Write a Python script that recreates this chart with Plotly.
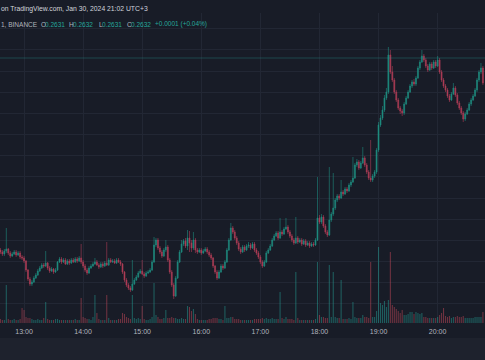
import plotly.graph_objects as go
import pandas as pd

# ---- data (2-minute candles, BINANCE, Jan 30 2024) ----
start_time = "2024-01-30 12:36"
first_open = 0.25986

close = [0.25982,0.25978,0.25984,0.25988,0.25980,0.25974,0.25978,0.25982,0.25976,0.25980,0.25972,
0.25970,0.25964,0.25946,0.25928,0.25918,0.25922,0.25930,0.25936,0.25944,0.25950,0.25956,
0.25954,0.25960,0.25950,0.25944,0.25948,0.25942,0.25946,0.25962,0.25968,
0.25962,0.25966,0.25958,0.25964,0.25960,0.25966,0.25962,0.25968,0.25964,0.25970,0.25962,
0.25954,0.25946,0.25940,0.25950,0.25954,0.25958,0.25962,0.25956,0.25952,0.25958,0.25954,0.25960,0.25956,
0.25966,0.25962,0.25964,0.25960,0.25966,0.25962,0.25958,
0.25942,0.25926,0.25916,0.25910,0.25906,0.25918,0.25926,0.25932,0.25940,0.25944,
0.25938,0.25934,0.25940,0.25942,0.25946,0.25962,
0.25996,0.26006,0.25990,0.25982,0.25974,0.25986,0.25992,0.25966,
0.25942,0.25916,0.25894,0.25930,0.25962,0.25982,0.25998,0.26004,0.25994,
0.26010,0.26000,0.25990,0.26006,0.25986,
0.25982,0.25986,0.25980,0.25984,0.25988,0.25982,0.25976,0.25970,
0.25954,0.25942,0.25930,0.25942,0.25954,0.25950,0.25962,0.25986,0.26006,0.26030,
0.26022,0.26010,0.26000,0.25988,0.25982,0.25992,0.25986,0.25994,
0.25996,0.25990,0.25998,0.25986,0.25980,0.25972,0.25962,0.25954,0.25962,0.25980,0.25986,
0.25994,0.26006,0.26014,0.26020,0.26010,0.26022,0.26018,0.26028,0.26032,
0.26022,0.26014,0.26006,0.26000,0.26010,0.26002,0.26006,0.25998,0.26004,0.25996,0.26000,0.25994,0.25998,0.25996,0.26006,
0.26050,0.26042,0.26052,0.26034,0.26022,0.26016,0.26046,0.26058,0.26070,
0.26086,0.26094,0.26090,0.26102,0.26098,0.26108,0.26104,0.26116,0.26122,0.26130,
0.26156,0.26162,0.26150,0.26160,0.26170,0.26156,0.26142,0.26130,0.26126,0.26134,0.26142,0.26186,
0.26236,0.26250,0.26266,0.26290,0.26302,0.26376,0.26342,0.26326,0.26302,0.26286,0.26270,0.26264,
0.26260,0.26278,0.26290,0.26302,0.26314,0.26322,0.26318,0.26330,0.26350,0.26362,0.26374,
0.26366,0.26354,0.26346,0.26358,0.26350,0.26362,0.26354,0.26366,0.26342,0.26326,
0.26314,0.26306,0.26294,0.26286,0.26298,0.26310,0.26296,0.26280,0.26270,0.26260,0.26248,
0.26258,0.26266,0.26278,0.26286,0.26294,0.26306,0.26326,0.26342,0.26350,0.26320]

high = [0.25990,0.25986,0.25988,0.26030,0.25990,0.25984,0.25982,0.25986,0.25986,0.25984,0.25984,
0.25976,0.25974,0.25966,0.25948,0.25932,0.25926,0.25934,0.25940,0.25948,0.25954,0.25960,
0.25960,0.25984,0.25962,0.25954,0.25952,0.25950,0.25950,0.25964,0.25972,
0.25972,0.25970,0.25970,0.25968,0.25968,0.25970,0.25970,0.25972,0.25972,0.25974,0.25998,
0.25966,0.25958,0.25950,0.25954,0.25958,0.25962,0.25970,0.25966,0.25960,0.25962,0.25962,0.25964,0.26002,
0.25970,0.25970,0.25968,0.25968,0.25970,0.25970,0.25966,
0.25960,0.25944,0.25930,0.25920,0.25914,0.25966,0.25930,0.25936,0.25944,0.25948,
0.25966,0.25942,0.25944,0.25946,0.25950,0.25966,
0.26012,0.26010,0.26010,0.25994,0.25986,0.25990,0.26006,0.25996,
0.25970,0.25946,0.25920,0.25934,0.25966,0.25986,0.26006,0.26008,0.26010,
0.26026,0.26024,0.26006,0.26022,0.26010,
0.25990,0.25990,0.25990,0.25988,0.25992,0.25992,0.25986,0.25980,
0.25972,0.25956,0.25946,0.25946,0.25958,0.25958,0.25966,0.25990,0.26010,0.26040,
0.26034,0.26026,0.26014,0.26004,0.25992,0.25996,0.25996,0.25998,
0.26002,0.26000,0.26002,0.26002,0.25990,0.25984,0.25976,0.25966,0.25966,0.25984,0.25990,
0.25998,0.26010,0.26018,0.26024,0.26024,0.26050,0.26026,0.26032,0.26050,
0.26036,0.26026,0.26018,0.26010,0.26052,0.26014,0.26010,0.26010,0.26008,0.26008,0.26004,0.26004,0.26002,0.26002,0.26010,
0.26132,0.26056,0.26058,0.26056,0.26038,0.26026,0.26152,0.26062,0.26140,
0.26090,0.26098,0.26098,0.26126,0.26106,0.26112,0.26112,0.26120,0.26126,0.26172,
0.26160,0.26168,0.26166,0.26164,0.26192,0.26174,0.26160,0.26146,0.26206,0.26138,0.26146,0.26190,
0.26242,0.26256,0.26274,0.26296,0.26310,0.26392,0.26386,0.26354,0.26330,0.26306,0.26290,0.26274,
0.26268,0.26282,0.26294,0.26306,0.26318,0.26326,0.26328,0.26334,0.26354,0.26366,0.26386,
0.26378,0.26370,0.26358,0.26362,0.26362,0.26366,0.26366,0.26374,0.26370,0.26346,
0.26330,0.26318,0.26310,0.26298,0.26302,0.26320,0.26314,0.26300,0.26284,0.26274,0.26264,
0.26262,0.26270,0.26282,0.26290,0.26298,0.26310,0.26330,0.26346,0.26360,0.26354]

low = [0.25978,0.25974,0.25974,0.25980,0.25976,0.25970,0.25972,0.25976,0.25972,0.25974,0.25968,
0.25966,0.25960,0.25942,0.25924,0.25914,0.25914,0.25920,0.25928,0.25934,0.25942,0.25948,
0.25950,0.25952,0.25946,0.25940,0.25942,0.25938,0.25940,0.25944,0.25960,
0.25958,0.25960,0.25956,0.25956,0.25956,0.25958,0.25960,0.25960,0.25960,0.25962,0.25958,
0.25950,0.25942,0.25936,0.25938,0.25948,0.25952,0.25956,0.25954,0.25948,0.25950,0.25950,0.25952,0.25954,
0.25954,0.25960,0.25960,0.25958,0.25958,0.25960,0.25954,
0.25938,0.25922,0.25912,0.25906,0.25902,0.25904,0.25916,0.25924,0.25930,0.25938,
0.25936,0.25930,0.25932,0.25938,0.25940,0.25944,
0.25960,0.25992,0.25986,0.25978,0.25970,0.25972,0.25982,0.25962,
0.25938,0.25912,0.25888,0.25892,0.25928,0.25960,0.25980,0.25994,0.25990,
0.25986,0.25982,0.25982,0.25986,0.25980,
0.25978,0.25980,0.25976,0.25978,0.25982,0.25978,0.25972,0.25966,
0.25950,0.25938,0.25926,0.25928,0.25940,0.25946,0.25948,0.25960,0.25984,0.26004,
0.26018,0.26006,0.25996,0.25984,0.25978,0.25980,0.25982,0.25984,
0.25990,0.25986,0.25988,0.25982,0.25976,0.25968,0.25958,0.25950,0.25952,0.25960,0.25978,
0.25984,0.25992,0.26004,0.26012,0.26006,0.26008,0.26014,0.26016,0.26026,
0.26018,0.26010,0.26002,0.25996,0.25998,0.25998,0.26000,0.25994,0.25996,0.25992,0.25994,0.25990,0.25992,0.25992,0.25994,
0.26004,0.26038,0.26038,0.26030,0.26018,0.26012,0.26014,0.26042,0.26054,
0.26066,0.26082,0.26086,0.26088,0.26094,0.26096,0.26100,0.26102,0.26112,0.26120,
0.26128,0.26152,0.26146,0.26148,0.26158,0.26152,0.26138,0.26126,0.26122,0.26122,0.26130,0.26138,
0.26182,0.26232,0.26246,0.26262,0.26286,0.26298,0.26338,0.26322,0.26298,0.26282,0.26266,0.26258,
0.26254,0.26256,0.26276,0.26288,0.26300,0.26310,0.26314,0.26314,0.26328,0.26346,0.26360,
0.26362,0.26350,0.26342,0.26344,0.26346,0.26348,0.26350,0.26352,0.26338,0.26322,
0.26310,0.26302,0.26290,0.26282,0.26284,0.26296,0.26292,0.26276,0.26266,0.26256,0.26242,
0.26244,0.26256,0.26264,0.26274,0.26284,0.26292,0.26302,0.26322,0.26338,0.26316]

volume = [40000,30000,30000,380000,40000,30000,30000,40000,30000,30000,40000,
150000,130000,60000,50000,50000,40000,30000,30000,40000,30000,30000,
50000,210000,40000,30000,30000,30000,40000,40000,30000,
30000,30000,30000,30000,30000,30000,30000,40000,30000,30000,250000,
60000,50000,40000,40000,30000,60000,280000,100000,40000,30000,30000,30000,280000,
50000,30000,30000,30000,30000,40000,40000,
100000,90000,60000,50000,40000,280000,50000,40000,50000,40000,
170000,40000,30000,30000,40000,60000,
400000,80000,60000,40000,40000,50000,130000,50000,
50000,60000,50000,50000,40000,40000,50000,40000,40000,
170000,160000,120000,140000,90000,
40000,30000,30000,30000,30000,30000,40000,40000,
50000,50000,50000,40000,40000,30000,170000,50000,50000,60000,
60000,40000,40000,40000,30000,30000,30000,30000,
30000,30000,30000,40000,40000,40000,40000,50000,40000,50000,40000,
40000,50000,40000,40000,40000,310000,50000,40000,60000,
40000,40000,40000,30000,510000,50000,30000,30000,30000,30000,30000,30000,30000,30000,40000,
610000,80000,60000,60000,50000,50000,580000,60000,510000,
60000,50000,50000,430000,40000,40000,40000,50000,40000,210000,
60000,50000,50000,50000,80000,60000,60000,50000,610000,60000,60000,120000,
760000,200000,180000,220000,160000,230000,710000,180000,160000,140000,120000,100000,
130000,80000,80000,90000,110000,110000,90000,110000,100000,90000,100000,
60000,60000,50000,50000,50000,50000,50000,60000,80000,100000,
150000,70000,60000,70000,50000,60000,60000,70000,60000,60000,70000,
50000,50000,50000,50000,50000,60000,60000,60000,60000,110000]

hour_labels = ["13:00", "14:00", "15:00", "16:00", "17:00", "18:00", "19:00", "20:00"]
legend_parts = [("1, BINANCE", "#b2b5be"), ("O", "#b2b5be"), ("0.2631", "#26a69a"),
                ("H", "#b2b5be"), ("0.2632", "#26a69a"), ("L", "#b2b5be"), ("0.2631", "#26a69a"),
                ("C", "#b2b5be"), ("0.2632", "#26a69a"), ("+0.0001 (+0.04%)", "#26a69a")]
legend_x_px = [0, 39.5, 43.5, 68, 72, 97.5, 101, 126, 130, 154]
title_text = "on TradingView.com, Jan 30, 2024 21:02 UTC+3"
marked_price = 0.26370

# ---- build ----
n = min(len(close), len(high), len(low), len(volume))
close, high, low, volume = close[:n], high[:n], low[:n], volume[:n]
opens = [first_open] + close[:-1]
times = pd.date_range(start_time, periods=n, freq="2min")

UP = "#20998a"
DOWN = "#c0425c"
UP_V = "rgba(38,166,154,0.48)"
DOWN_V = "rgba(215,78,95,0.45)"
vol_colors = [UP_V if c >= o else DOWN_V for o, c in zip(opens, close)]

BG = "#181c27"
GRID = "#222734"
W, H = 485, 360
T, B = 13, 37
plot_h = H - T - B
FONT = "Liberation Sans, Arial, sans-serif"

fig = go.Figure()
fig.add_trace(go.Bar(x=times, y=volume, marker_color=vol_colors, marker_line_width=0,
                     yaxis="y2", showlegend=False, hoverinfo="skip"))
fig.add_trace(go.Candlestick(
    x=times, open=opens, high=high, low=low, close=close,
    increasing=dict(line=dict(color=UP, width=0.6), fillcolor=UP),
    decreasing=dict(line=dict(color=DOWN, width=0.6), fillcolor=DOWN),
    whiskerwidth=0, opacity=0.9, showlegend=False))

y_top = 0.26460
y_bot = 0.25840

fig.update_layout(
    width=W, height=H,
    margin=dict(l=0, r=0, t=T, b=B),
    paper_bgcolor=BG, plot_bgcolor=BG,
    bargap=0.45,
    xaxis=dict(
        type="date",
        range=["2024-01-30 12:35:36", "2024-01-30 20:48:06"],
        rangeslider=dict(visible=False),
        tickmode="array",
        tickvals=[f"2024-01-30 {h}" for h in hour_labels],
        ticktext=hour_labels,
        showgrid=True, gridcolor=GRID, gridwidth=1,
        zeroline=False, showline=False, ticks="",
        tickfont=dict(family=FONT, size=7, color="#b2b5be"),
        ticklabelstandoff=3,
    ),
    yaxis=dict(
        range=[y_bot, y_top],
        tick0=0.263438, dtick=0.000423,
        showgrid=True, gridcolor=GRID, gridwidth=1,
        showticklabels=False, zeroline=False, showline=False, ticks="",
    ),
    yaxis2=dict(range=[0, 3100000], overlaying="y", visible=False, showgrid=False),
)

# bottom panel band (below time axis)
fig.add_shape(type="rect", xref="paper", yref="paper", x0=0, x1=1,
              y0=(T + plot_h - 338) / plot_h, y1=(T + plot_h - H) / plot_h,
              fillcolor="#1e222d", line_width=0, layer="below")
# marked price line
fig.add_shape(type="line", xref="paper", yref="y", x0=0, x1=1, y0=marked_price, y1=marked_price,
              line=dict(color="rgba(38,166,154,0.32)", width=1))

def py(pix):
    return (T + plot_h - pix) / plot_h

fig.add_annotation(text=title_text, xref="paper", yref="paper", x=0, y=py(9),
                   xanchor="left", yanchor="middle", showarrow=False, borderpad=0,
                   font=dict(family=FONT, size=6.8, color="#d1d4dc"))
for (txt, col), xp in zip(legend_parts, legend_x_px):
    fig.add_annotation(text=txt, xref="paper", yref="paper", x=xp / W, y=py(24),
                       xanchor="left", yanchor="middle", showarrow=False, borderpad=0,
                       font=dict(family=FONT, size=6.5, color=col))

fig.write_html("out.html",
               config={"displayModeBar": False},
               post_script="document.body.style.margin='0';document.body.style.overflow='hidden';")
